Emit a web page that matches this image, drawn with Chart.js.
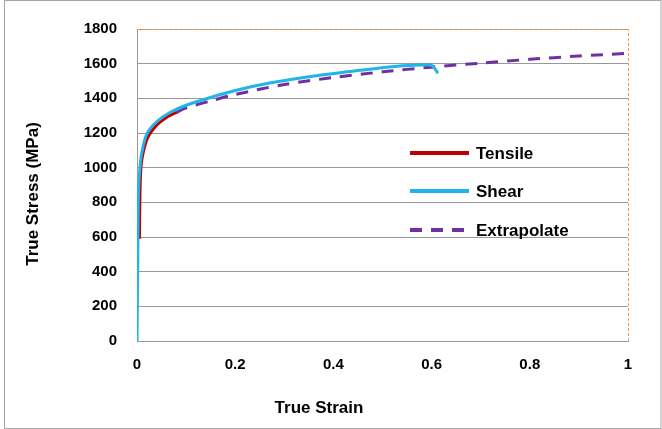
<!DOCTYPE html>
<html>
<head>
<meta charset="utf-8">
<script src="https://cdn.jsdelivr.net/npm/chart.js@4"></script>
<style>
  html, body { margin: 0; padding: 0; background: #fff; }
  #wrap { width: 662px; height: 429px; }
</style>
</head>
<body>
<div id="wrap"><canvas id="stressChart"></canvas></div>
<script>
// series: [strain, stress]
const tensile = [
    [0.005, 590], [0.006, 850], [0.008, 1000], [0.012, 1080], [0.022, 1175],
    [0.04, 1245], [0.06, 1290], [0.085, 1325]
];
const shear = [
    [0, 0], [0.002, 600], [0.003, 860], [0.006, 1000], [0.01, 1090],
    [0.02, 1195], [0.04, 1265], [0.067, 1318], [0.1, 1360], [0.15, 1405],
    [0.2, 1445], [0.27, 1488], [0.35, 1525], [0.45, 1560], [0.53, 1585],
    [0.58, 1592], [0.6, 1590], [0.613, 1545]
];
const extrapolate = [
    [0.08, 1318], [0.1, 1345], [0.15, 1385], [0.2, 1422], [0.3, 1480],
    [0.4, 1520], [0.5, 1553], [0.6, 1580], [0.7, 1603], [0.8, 1625],
    [0.9, 1644], [1.0, 1660]
];
const seriesNames = ['Tensile', 'Shear', 'Extrapolate'];
const xTicks = [0, 0.2, 0.4, 0.6, 0.8, 1];
const yTicks = [0, 200, 400, 600, 800, 1000, 1200, 1400, 1600, 1800];

const FONT = '"Liberation Sans", Arial, sans-serif';
const toPts = arr => arr.map(p => ({ x: p[0], y: p[1] }));

// frame, plot border, axis titles and the in-plot legend
const decorations = {
    id: 'decorations',
    beforeDraw(chart) {
        const ctx = chart.ctx;
        ctx.save();
        ctx.fillStyle = '#fff';
        ctx.fillRect(0, 0, chart.width, chart.height);
        ctx.strokeStyle = '#a6a6a6';
        ctx.lineWidth = 1;
        ctx.strokeRect(4.5, 0.5, chart.width - 5.5, chart.height - 1);
        ctx.restore();
    },
    afterDatasetsDraw(chart) {
        const ctx = chart.ctx;
        const a = chart.chartArea;
        ctx.save();
        // orange dashed top and right border
        ctx.strokeStyle = '#f79646';
        ctx.lineWidth = 1;
        ctx.setLineDash([3, 2]);
        ctx.beginPath();
        ctx.moveTo(a.left, a.top + 0.5);
        ctx.lineTo(a.right + 0.5, a.top + 0.5);
        ctx.lineTo(a.right + 0.5, a.bottom);
        ctx.stroke();
        ctx.setLineDash([]);

        // axis titles
        ctx.fillStyle = '#000';
        ctx.font = 'bold 17px ' + FONT;
        ctx.textAlign = 'center';
        ctx.textBaseline = 'middle';
        ctx.fillText('True Strain', 319, 408);
        ctx.translate(33, 194);
        ctx.rotate(-Math.PI / 2);
        ctx.fillText('True Stress (MPa)', 0, 0);
        ctx.restore();

        // legend
        ctx.save();
        const rows = [153, 191, 230];
        chart.data.datasets.forEach((ds, i) => {
            ctx.strokeStyle = ds.borderColor;
            ctx.lineWidth = 4;
            ctx.setLineDash(ds.borderDash || []);
            ctx.beginPath();
            ctx.moveTo(410, rows[i]);
            ctx.lineTo(469, rows[i]);
            ctx.stroke();
            ctx.setLineDash([]);
            ctx.fillStyle = '#000';
            ctx.font = 'bold 17px ' + FONT;
            ctx.textAlign = 'left';
            ctx.textBaseline = 'middle';
            ctx.fillText(ds.label, 476, rows[i] + 1);
        });
        ctx.restore();
    }
};

const chartEl = document.getElementById('stressChart');
const stressChart = new Chart(chartEl, {
    type: 'scatter',
    data: {
        datasets: [{
            label: seriesNames[0],
            data: toPts(tensile),
            showLine: true,
            borderColor: '#c00000',
            borderWidth: 3,
            pointRadius: 0,
            tension: 0.3,
            order: 2
        }, {
            label: seriesNames[1],
            data: toPts(shear),
            showLine: true,
            borderColor: '#1fb4ea',
            borderWidth: 3,
            pointRadius: 0,
            tension: 0.3,
            order: 0
        }, {
            label: seriesNames[2],
            data: toPts(extrapolate),
            showLine: true,
            borderColor: '#7030a0',
            borderWidth: 3,
            borderDash: [12, 9],
            pointRadius: 0,
            tension: 0.3,
            order: 1
        }]
    },
    options: {
        responsive: true,
        maintainAspectRatio: false,
        animation: false,
        layout: { padding: { left: 0, top: 26, right: 34, bottom: 0 } },
        plugins: {
            legend: { display: false },
            tooltip: { enabled: false }
        },
        scales: {
            x: {
                type: 'linear',
                min: 0,
                max: 1,
                afterBuildTicks: axis => { axis.ticks = xTicks.map(v => ({ value: v })); },
                afterFit: axis => { axis.height = 88; },
                grid: { display: false, drawTicks: false },
                border: { display: true, color: '#999', width: 1 },
                ticks: {
                    padding: 15,
                    color: '#000',
                    font: { family: FONT, size: 15, weight: 'bold' },
                    callback: v => String(v)
                }
            },
            y: {
                min: 0,
                max: 1800,
                afterBuildTicks: axis => { axis.ticks = yTicks.map(v => ({ value: v })); },
                afterFit: axis => { axis.width = 137; },
                grid: { color: '#999', lineWidth: 1, drawTicks: false },
                border: { display: true, color: '#999', width: 1 },
                ticks: {
                    padding: 20,
                    color: '#000',
                    font: { family: FONT, size: 15, weight: 'bold' },
                    callback: v => String(v)
                }
            }
        }
    },
    plugins: [decorations]
});
</script>
</body>
</html>
